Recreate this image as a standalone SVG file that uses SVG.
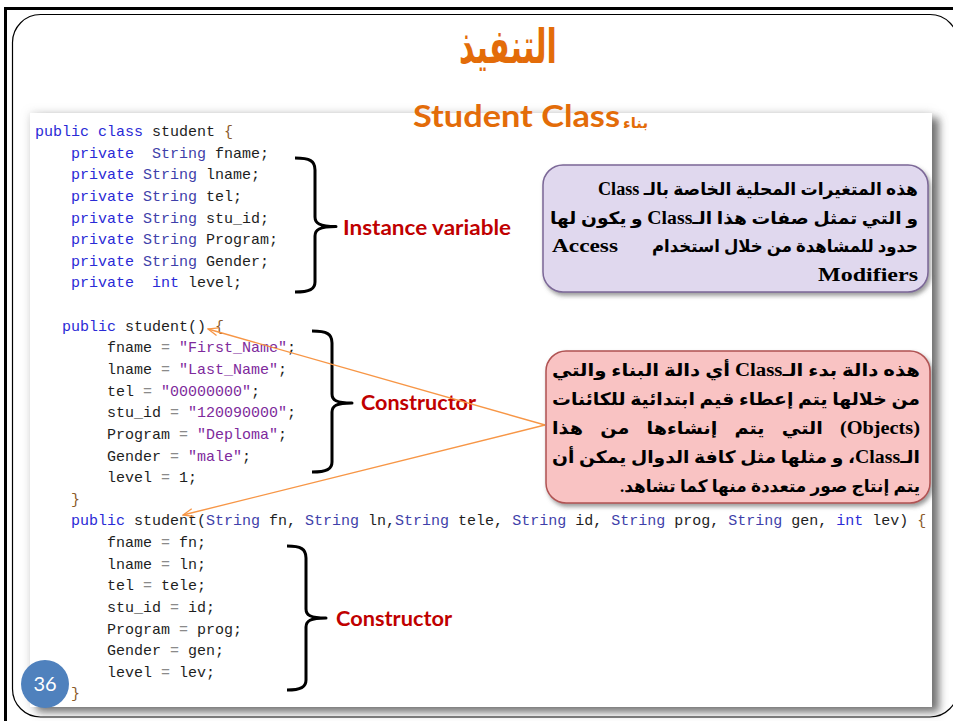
<svg xmlns="http://www.w3.org/2000/svg" width="953" height="721" viewBox="0 0 953 721">
  <defs>
    <style>
      .code { font-family: "Liberation Mono", "Courier New", monospace; font-size: 15px; fill: #1e1e1e; }
      .kw { fill: #2a2ad6; }
      .ty { fill: #3f3faa; }
      .op { fill: #8a8a8a; }
      .str { fill: #7e2a9c; }
      .br { fill: #8a5a2a; }
      .brace { fill: none; stroke: #000; stroke-width: 3; stroke-linejoin: round; }
      .lbl { font-family: Lato, "Liberation Sans", sans-serif; font-weight: bold; fill: #c00000; }
      .ar { font-family: "Liberation Serif", "DejaVu Sans", serif; font-weight: bold; font-size: 17px; fill: #000; }
      .lat { font-family: "Liberation Serif", serif; font-weight: bold; font-size: 18px; fill: #000; }
      .link { fill: none; stroke: #f79646; stroke-width: 1.4; }
    </style>
    <marker id="open" viewBox="0 0 12 10" refX="11" refY="5" markerWidth="12" markerHeight="10" markerUnits="userSpaceOnUse" orient="auto">
      <path d="M1,1 L11,5 L1,9" fill="none" stroke="#f79646" stroke-width="1.3"/>
    </marker>
    <filter id="panelShadow" x="-5%" y="-5%" width="112%" height="112%">
      <feGaussianBlur in="SourceAlpha" stdDeviation="4" result="b"/>
      <feOffset in="b" dx="7" dy="5" result="o"/>
      <feFlood flood-color="#5a5a5a" flood-opacity="0.85"/>
      <feComposite in2="o" operator="in" result="s"/>
      <feGaussianBlur in="SourceAlpha" stdDeviation="5" result="g"/>
      <feFlood flood-color="#b0b0b0" flood-opacity="0.5"/>
      <feComposite in2="g" operator="in" result="glow"/>
      <feMerge>
        <feMergeNode in="glow"/>
        <feMergeNode in="s"/>
        <feMergeNode in="SourceGraphic"/>
      </feMerge>
    </filter>
    <filter id="boxShadow" x="-5%" y="-10%" width="115%" height="125%">
      <feDropShadow dx="2" dy="3" stdDeviation="2" flood-color="#555" flood-opacity="0.6"/>
    </filter>
  </defs>

  <rect width="953" height="721" fill="#fff"/>

  <!-- slide frame -->
  <g id="frame">
    <path d="M5.5,721 L5.5,8.5 L953,8.5" fill="none" stroke="#000" stroke-width="3"/>
    <rect x="12.5" y="14.5" width="945.5" height="702.5" rx="28" fill="#fff" stroke="#000" stroke-width="1.2"/>
  </g>

  <!-- heading (condensed horizontally) -->
  <g id="title">
    <text x="0" y="63" transform="translate(508,0) scale(0.63,1)" text-anchor="middle" font-family="'DejaVu Sans', sans-serif" font-weight="bold" font-size="48" fill="#e36c09">التنفيذ</text>
  </g>

  <!-- code listing panel -->
  <g id="code-panel">
    <rect x="30" y="113" width="902" height="594" fill="#fff" filter="url(#panelShadow)"/>
    <g class="code">
      <text x="35" y="136" xml:space="preserve"><tspan class="kw">public class</tspan> student <tspan class="br">{</tspan></text>
      <text x="71" y="157.6" xml:space="preserve"><tspan class="kw">private</tspan>  <tspan class="ty">String</tspan> fname;</text>
      <text x="71" y="179.3" xml:space="preserve"><tspan class="kw">private</tspan> <tspan class="ty">String</tspan> lname;</text>
      <text x="71" y="200.9" xml:space="preserve"><tspan class="kw">private</tspan> <tspan class="ty">String</tspan> tel;</text>
      <text x="71" y="222.5" xml:space="preserve"><tspan class="kw">private</tspan> <tspan class="ty">String</tspan> stu_id;</text>
      <text x="71" y="244.2" xml:space="preserve"><tspan class="kw">private</tspan> <tspan class="ty">String</tspan> Program;</text>
      <text x="71" y="265.8" xml:space="preserve"><tspan class="kw">private</tspan> <tspan class="ty">String</tspan> Gender;</text>
      <text x="71" y="287.4" xml:space="preserve"><tspan class="kw">private</tspan>  <tspan class="kw">int</tspan> level;</text>

      <text x="62" y="330.7" xml:space="preserve"><tspan class="kw">public</tspan> student() <tspan class="br">{</tspan></text>
      <text x="107" y="352.3" xml:space="preserve">fname <tspan class="op">=</tspan> <tspan class="str">"First_Name"</tspan>;</text>
      <text x="107" y="373.9" xml:space="preserve">lname <tspan class="op">=</tspan> <tspan class="str">"Last_Name"</tspan>;</text>
      <text x="107" y="395.6" xml:space="preserve">tel <tspan class="op">=</tspan> <tspan class="str">"00000000"</tspan>;</text>
      <text x="107" y="417.2" xml:space="preserve">stu_id <tspan class="op">=</tspan> <tspan class="str">"120090000"</tspan>;</text>
      <text x="107" y="438.8" xml:space="preserve">Program <tspan class="op">=</tspan> <tspan class="str">"Deploma"</tspan>;</text>
      <text x="107" y="460.5" xml:space="preserve">Gender <tspan class="op">=</tspan> <tspan class="str">"male"</tspan>;</text>
      <text x="107" y="482.1" xml:space="preserve">level <tspan class="op">=</tspan> 1;</text>
      <text x="71" y="503.7" class="br">}</text>

      <text x="71" y="525.3" xml:space="preserve"><tspan class="kw">public</tspan> student(<tspan class="ty">String</tspan> fn, <tspan class="ty">String</tspan> ln,<tspan class="ty">String</tspan> tele, <tspan class="ty">String</tspan> id, <tspan class="ty">String</tspan> prog, <tspan class="ty">String</tspan> gen, <tspan class="kw">int</tspan> lev) <tspan class="br">{</tspan></text>
      <text x="107" y="547" xml:space="preserve">fname <tspan class="op">=</tspan> fn;</text>
      <text x="107" y="568.6" xml:space="preserve">lname <tspan class="op">=</tspan> ln;</text>
      <text x="107" y="590.2" xml:space="preserve">tel <tspan class="op">=</tspan> tele;</text>
      <text x="107" y="611.9" xml:space="preserve">stu_id <tspan class="op">=</tspan> id;</text>
      <text x="107" y="633.5" xml:space="preserve">Program <tspan class="op">=</tspan> prog;</text>
      <text x="107" y="655.1" xml:space="preserve">Gender <tspan class="op">=</tspan> gen;</text>
      <text x="107" y="676.8" xml:space="preserve">level <tspan class="op">=</tspan> lev;</text>
      <text x="71" y="698.4" class="br">}</text>
    </g>
  </g>

  <!-- subtitle sits over the panel top edge -->
  <g id="subtitle">
    <text x="413" y="127" class="lbl" font-size="31" style="fill:#e36c09" textLength="207" lengthAdjust="spacingAndGlyphs">Student Class</text>
    <text x="623" y="128" font-family="'DejaVu Sans', sans-serif" font-weight="bold" font-size="15" fill="#e36c09">بناء</text>
  </g>

  <!-- braces and labels -->
  <g id="instance-variable">
    <path class="brace" d="M295,158 C310,158 315,161 315,170 L315,217 C315,223 319,226.5 336,226.5 C319,226.5 315,230 315,236 L315,282 C315,289 310,292 295,292"/>
    <text x="343" y="235" class="lbl" font-size="21" textLength="168" lengthAdjust="spacingAndGlyphs">Instance variable</text>
  </g>
  <g id="constructor-default">
    <path class="brace" d="M312,331 C327,331 332,334 332,343 L332,394 C332,400 336,403 352,403 C336,403 332,406 332,412 L332,462 C332,469 327,472 312,472"/>
    <text x="361" y="410" class="lbl" font-size="20" textLength="115" lengthAdjust="spacingAndGlyphs">Constructor</text>
  </g>
  <g id="constructor-params">
    <path class="brace" d="M287,546 C301,546 306,549 306,558 L306,609 C306,615 310,618 326,618 C310,618 306,621 306,627 L306,680 C306,687 301,690 287,690"/>
    <text x="336" y="626" class="lbl" font-size="20" textLength="116" lengthAdjust="spacingAndGlyphs">Constructor</text>
  </g>

  <!-- pointers from the constructor note -->
  <g id="connectors">
    <path class="link" d="M545,425 L208,329" marker-end="url(#open)"/>
    <path class="link" d="M545,425 L183,515" marker-end="url(#open)"/>
  </g>

  <!-- note on instance variables -->
  <g id="note-variables">
    <rect x="543" y="165" width="385" height="127" rx="20" fill="#e0d8ee" stroke="#7b6797" stroke-width="1.5" filter="url(#boxShadow)"/>
    <text class="ar" x="758" y="195" direction="rtl" text-anchor="middle" textLength="320" lengthAdjust="spacingAndGlyphs">هذه المتغيرات المحلية الخاصة بالـ <tspan class="lat">Class</tspan></text>
    <text class="ar" x="734" y="224" direction="rtl" text-anchor="middle" textLength="368" lengthAdjust="spacingAndGlyphs">و التي تمثل صفات هذا الـ<tspan class="lat">Class</tspan> و يكون لها</text>
    <text class="ar" x="785" y="252" direction="rtl" text-anchor="middle" textLength="266" lengthAdjust="spacingAndGlyphs">حدود للمشاهدة من خلال استخدام</text>
    <text class="lat" x="552" y="252" textLength="66" lengthAdjust="spacingAndGlyphs">Access</text>
    <text class="lat" x="918" y="281" text-anchor="end" textLength="100" lengthAdjust="spacingAndGlyphs">Modifiers</text>
  </g>

  <!-- note on constructors -->
  <g id="note-constructor">
    <rect x="546" y="351" width="384" height="152" rx="20" fill="#f9c3c3" stroke="#b05252" stroke-width="1.5" filter="url(#boxShadow)"/>
    <text class="ar" x="736" y="376" direction="rtl" text-anchor="middle" textLength="368" lengthAdjust="spacingAndGlyphs">هذه دالة بدء الـ<tspan class="lat">Class</tspan> أي دالة البناء والتي</text>
    <text class="ar" x="736" y="405" direction="rtl" text-anchor="middle" textLength="368" lengthAdjust="spacingAndGlyphs">من خلالها يتم إعطاء قيم ابتدائية للكائنات</text>
    <text class="ar" x="736" y="434" direction="rtl" text-anchor="middle" word-spacing="11" textLength="368" lengthAdjust="spacingAndGlyphs"><tspan class="lat">(Objects)</tspan> التي يتم إنشاءها من هذا</text>
    <text class="ar" x="736" y="463" direction="rtl" text-anchor="middle" textLength="368" lengthAdjust="spacingAndGlyphs">الـ<tspan class="lat">Class</tspan>، و مثلها مثل كافة الدوال يمكن أن</text>
    <text class="ar" x="770" y="492" direction="rtl" text-anchor="middle" textLength="300" lengthAdjust="spacingAndGlyphs">يتم إنتاج صور متعددة منها كما تشاهد.</text>
  </g>

  <!-- slide number -->
  <g id="page-number">
    <circle cx="45" cy="684" r="24" fill="#4f81bd"/>
    <text x="45" y="691" text-anchor="middle" font-family="Lato, 'Liberation Sans', sans-serif" font-size="20" fill="#fff">36</text>
  </g>
</svg>
